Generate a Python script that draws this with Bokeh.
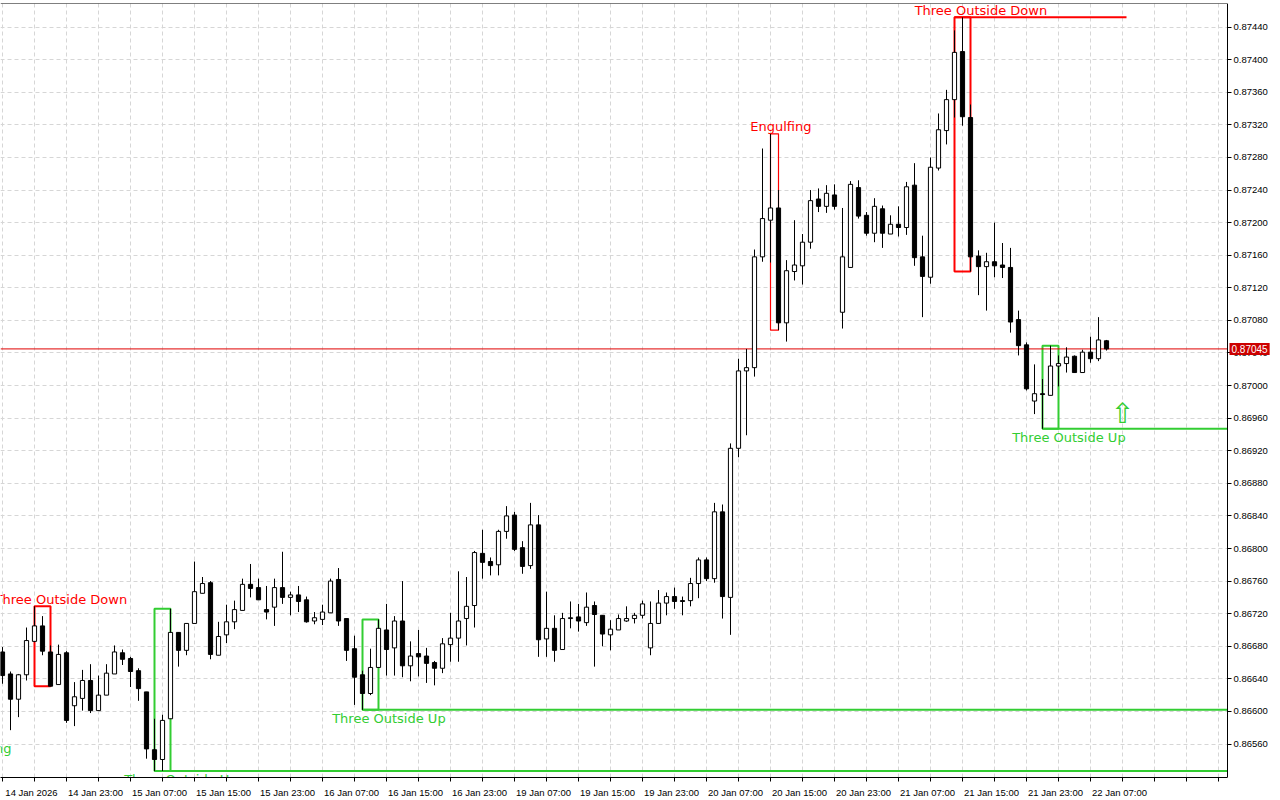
from bokeh.plotting import figure
from bokeh.models import ColumnDataSource, FixedTicker, Range1d, Label, PrintfTickFormatter, LinearAxis
from bokeh.core.properties import value
from bokeh.embed import file_html
from bokeh.resources import INLINE

# ---------------- data (H1 bars, 14 Jan 15:00 -> 22 Jan 09:00) ----------------
opens = [0.86673, 0.86646, 0.86615, 0.86645, 0.86686, 0.86705, 0.86673, 0.86633, 0.86672, 0.86607,
         0.86616, 0.86638, 0.86601, 0.86620, 0.86646, 0.86672, 0.86665, 0.86650, 0.86624, 0.86553,
         0.86541, 0.86591, 0.86697, 0.86675, 0.86708, 0.86745, 0.86758, 0.86669, 0.86694, 0.86710,
         0.86724, 0.86756, 0.86752, 0.86725, 0.86728, 0.86752, 0.86740, 0.86743, 0.86737, 0.86711,
         0.86713, 0.86721, 0.86762, 0.86714, 0.86677, 0.86645, 0.86622, 0.86654, 0.86700, 0.86678,
         0.86711, 0.86656, 0.86671, 0.86668, 0.86660, 0.86653, 0.86682, 0.86690, 0.86714, 0.86730,
         0.86794, 0.86784, 0.86780, 0.86821, 0.86841, 0.86801, 0.86779, 0.86829, 0.86689, 0.86702,
         0.86676, 0.86714, 0.86716, 0.86709, 0.86730, 0.86718, 0.86694, 0.86700, 0.86711, 0.86714,
         0.86718, 0.86678, 0.86708, 0.86733, 0.86741, 0.86736, 0.86736, 0.86757, 0.86786, 0.86763,
         0.86845, 0.86740, 0.86923, 0.87018, 0.87022, 0.87158, 0.87203, 0.87218, 0.87077, 0.87140,
         0.87147, 0.87176, 0.87229, 0.87220, 0.87234, 0.87090, 0.87145, 0.87243, 0.87209, 0.87187,
         0.87217, 0.87186, 0.87198, 0.87194, 0.87246, 0.87158, 0.87133, 0.87267, 0.87313, 0.87351,
         0.87410, 0.87329, 0.87159, 0.87146, 0.87152, 0.87148, 0.87145, 0.87081, 0.87050, 0.86981,
         0.86990, 0.86988, 0.87024, 0.87027, 0.87036, 0.87016, 0.87041, 0.87033, 0.87055]
highs = [0.86679, 0.86649, 0.86646, 0.86703, 0.86729, 0.86717, 0.86681, 0.86682, 0.86674, 0.86636,
         0.86651, 0.86658, 0.86644, 0.86658, 0.86681, 0.86676, 0.86667, 0.86653, 0.86624, 0.86591,
         0.86596, 0.86726, 0.86697, 0.86708, 0.86784, 0.86765, 0.86760, 0.86710, 0.86731, 0.86736,
         0.86763, 0.86781, 0.86763, 0.86754, 0.86763, 0.86796, 0.86747, 0.86754, 0.86741, 0.86722,
         0.86731, 0.86763, 0.86776, 0.86714, 0.86693, 0.86650, 0.86677, 0.86713, 0.86732, 0.86717,
         0.86760, 0.86686, 0.86700, 0.86678, 0.86662, 0.86690, 0.86721, 0.86772, 0.86765, 0.86797,
         0.86823, 0.86789, 0.86823, 0.86852, 0.86845, 0.86809, 0.86856, 0.86841, 0.86747, 0.86718,
         0.86721, 0.86735, 0.86732, 0.86746, 0.86735, 0.86718, 0.86712, 0.86719, 0.86729, 0.86721,
         0.86736, 0.86735, 0.86749, 0.86746, 0.86752, 0.86741, 0.86764, 0.86789, 0.86789, 0.86856,
         0.86854, 0.86929, 0.87033, 0.87045, 0.87167, 0.87291, 0.87309, 0.87240, 0.87154, 0.87203,
         0.87186, 0.87240, 0.87242, 0.87246, 0.87247, 0.87218, 0.87251, 0.87252, 0.87213, 0.87230,
         0.87221, 0.87209, 0.87220, 0.87250, 0.87273, 0.87184, 0.87280, 0.87334, 0.87363, 0.87436,
         0.87452, 0.87345, 0.87166, 0.87163, 0.87200, 0.87175, 0.87169, 0.87092, 0.87053, 0.87026,
         0.87008, 0.87049, 0.87037, 0.87047, 0.87037, 0.87044, 0.87060, 0.87084, 0.87056]
lows = [0.86634, 0.86577, 0.86593, 0.86638, 0.86685, 0.86669, 0.86631, 0.86633, 0.86586, 0.86582,
        0.86601, 0.86598, 0.86601, 0.86620, 0.86646, 0.86657, 0.86630, 0.86613, 0.86542, 0.86527,
        0.86527, 0.86591, 0.86655, 0.86669, 0.86708, 0.86745, 0.86664, 0.86669, 0.86684, 0.86701,
        0.86724, 0.86740, 0.86737, 0.86713, 0.86705, 0.86732, 0.86718, 0.86722, 0.86709, 0.86707,
        0.86706, 0.86721, 0.86705, 0.86662, 0.86608, 0.86602, 0.86620, 0.86654, 0.86644, 0.86644,
        0.86642, 0.86637, 0.86643, 0.86635, 0.86632, 0.86647, 0.86661, 0.86661, 0.86681, 0.86703,
        0.86763, 0.86767, 0.86767, 0.86812, 0.86797, 0.86769, 0.86775, 0.86667, 0.86667, 0.86661,
        0.86676, 0.86702, 0.86698, 0.86705, 0.86655, 0.86680, 0.86675, 0.86700, 0.86710, 0.86708,
        0.86714, 0.86669, 0.86708, 0.86718, 0.86726, 0.86718, 0.86729, 0.86739, 0.86760, 0.86758,
        0.86714, 0.86694, 0.86912, 0.86939, 0.87011, 0.87152, 0.87151, 0.87068, 0.87054, 0.87129,
        0.87124, 0.87168, 0.87213, 0.87212, 0.87216, 0.87070, 0.87145, 0.87205, 0.87184, 0.87176,
        0.87169, 0.87186, 0.87183, 0.87185, 0.87147, 0.87084, 0.87125, 0.87264, 0.87296, 0.87329,
        0.87319, 0.87140, 0.87111, 0.87092, 0.87133, 0.87132, 0.87065, 0.87037, 0.86994, 0.86965,
        0.86947, 0.86988, 0.86999, 0.87016, 0.87016, 0.87016, 0.87028, 0.87030, 0.87043]
closes = [0.86644, 0.86615, 0.86645, 0.86687, 0.86705, 0.86674, 0.86631, 0.86670, 0.86589, 0.86618,
          0.86638, 0.86601, 0.86620, 0.86647, 0.86673, 0.86664, 0.86649, 0.86628, 0.86554, 0.86541,
          0.86589, 0.86697, 0.86675, 0.86708, 0.86747, 0.86757, 0.86670, 0.86692, 0.86710, 0.86725,
          0.86756, 0.86751, 0.86737, 0.86722, 0.86752, 0.86740, 0.86743, 0.86735, 0.86710, 0.86715,
          0.86722, 0.86760, 0.86711, 0.86675, 0.86642, 0.86622, 0.86654, 0.86702, 0.86676, 0.86711,
          0.86656, 0.86668, 0.86667, 0.86659, 0.86653, 0.86683, 0.86690, 0.86711, 0.86729, 0.86795,
          0.86783, 0.86779, 0.86821, 0.86840, 0.86799, 0.86778, 0.86829, 0.86688, 0.86702, 0.86675,
          0.86714, 0.86715, 0.86711, 0.86728, 0.86719, 0.86695, 0.86701, 0.86714, 0.86714, 0.86718,
          0.86732, 0.86708, 0.86733, 0.86741, 0.86735, 0.86735, 0.86757, 0.86786, 0.86763, 0.86845,
          0.86741, 0.86923, 0.87018, 0.87022, 0.87158, 0.87205, 0.87218, 0.87077, 0.87141, 0.87148,
          0.87176, 0.87227, 0.87220, 0.87236, 0.87220, 0.87158, 0.87247, 0.87208, 0.87187, 0.87220,
          0.87187, 0.87198, 0.87194, 0.87244, 0.87157, 0.87134, 0.87268, 0.87314, 0.87351, 0.87409,
          0.87330, 0.87158, 0.87146, 0.87152, 0.87147, 0.87145, 0.87078, 0.87049, 0.86996, 0.86990,
          0.86989, 0.87024, 0.87027, 0.87035, 0.87016, 0.87041, 0.87033, 0.87056, 0.87045]

time_label_bars = [0, 8, 16, 24, 32, 40, 48, 56, 64, 72, 80, 88, 96, 104, 112, 120, 128, 136]
time_labels = ["14 Jan 2026", "14 Jan 23:00", "15 Jan 07:00", "15 Jan 15:00", "15 Jan 23:00",
               "16 Jan 07:00", "16 Jan 15:00", "16 Jan 23:00", "19 Jan 07:00", "19 Jan 15:00",
               "19 Jan 23:00", "20 Jan 07:00", "20 Jan 15:00", "20 Jan 23:00", "21 Jan 07:00",
               "21 Jan 15:00", "21 Jan 23:00", "22 Jan 07:00"]
price_ticks = [0.86560, 0.86600, 0.86640, 0.86680, 0.86720, 0.86760, 0.86800, 0.86840, 0.86880,
               0.86920, 0.86960, 0.87000, 0.87040, 0.87080, 0.87120, 0.87160, 0.87200, 0.87240,
               0.87280, 0.87320, 0.87360, 0.87400, 0.87440]
current_price = 0.87045

# candlestick patterns: name, first bar, last bar, pattern high, pattern low, bullish?
pattern_names = ["Engulfing", "Three Outside Down", "Three Outside Up", "Three Outside Up",
                 "Engulfing", "Three Outside Down", "Three Outside Up"]
pattern_start = [-4, 4, 19, 45, 96, 119, 130]
pattern_end = [-3, 6, 21, 47, 97, 121, 132]
pattern_high = [0.86610, 0.86729, 0.86726, 0.86713, 0.87309, 0.87452, 0.87049]
pattern_low = [0.86565, 0.86631, 0.86527, 0.86602, 0.87068, 0.87140, 0.86947]
pattern_bull = [True, False, True, True, False, False, True]

# support / resistance levels left by the patterns (None = runs to the price scale)
level_price = [0.86527, 0.86602, 0.86947, 0.87452]
level_start = [19, 45, 130, 119]
level_end = [None, None, None, 140.5]
level_bull = [True, True, True, False]

arrow_x = [140]
arrow_y = [0.86966]

# ---------------- figure ----------------
RED = "#ff0000"
GREEN = "#32cd32"
X0, X1 = -0.25, 159.75          # full canvas width, 8 px per bar
AXIS_X = 153.125                # where the price scale sits
Y0, Y1 = 0.865189, 0.874690

p = figure(width=1280, height=800, x_range=Range1d(X0, X1), y_range=Range1d(Y0, Y1),
           output_backend="svg", toolbar_location=None, y_axis_location="right",
           min_border_left=0, min_border_top=3, min_border_right=0, min_border_bottom=21,
           background_fill_color="white", border_fill_color="white")
p.outline_line_color = None

# grid
p.xgrid.ticker = FixedTicker(ticks=list(range(0, 156, 4)))
for g in (p.xgrid, p.ygrid):
    g.grid_line_color = "#d6d6d6"
    g.grid_line_dash = "4 3"
    g.grid_line_width = 1

# pattern boxes (behind candles)
for nm, s, e, hi, lo, bull in zip(pattern_names, pattern_start, pattern_end, pattern_high, pattern_low, pattern_bull):
    col = GREEN if bull else RED
    lw = 1.2 if nm == "Engulfing" else 2
    p.quad(left=[s], right=[e], top=[hi], bottom=[lo], fill_alpha=0, line_color=col, line_width=lw)

# levels
p.segment(x0=level_start, x1=[AXIS_X if e is None else e for e in level_end],
          y0=level_price, y1=level_price,
          line_color=[GREEN if b else RED for b in level_bull], line_width=2)

# current price line
p.segment(x0=[X0], x1=[AXIS_X], y0=[current_price], y1=[current_price],
          line_color="#e00000", line_width=1)

# candles
n = len(opens)
bars = list(range(n))
src = ColumnDataSource(dict(
    x=bars, o=opens, h=highs, l=lows, c=closes,
    top=[max(a, b) for a, b in zip(opens, closes)],
    bot=[min(a, b) for a, b in zip(opens, closes)],
    fill=["white" if c >= o else "black" for o, c in zip(opens, closes)],
))
p.segment(x0="x", y0="l", x1="x", y1="h", source=src, line_color="black", line_width=1)
p.vbar(x="x", top="top", bottom="bot", width=0.52, source=src,
       fill_color="fill", line_color="black", line_width=1)

# pattern names
bear_src = ColumnDataSource(dict(
    x=[e + 0.3 + (e - s - 1) for s, e, b in zip(pattern_start, pattern_end, pattern_bull) if not b],
    y=[hi for hi, b in zip(pattern_high, pattern_bull) if not b],
    t=[nm for nm, b in zip(pattern_names, pattern_bull) if not b]))
bull_src = ColumnDataSource(dict(
    x=[e + 0.3 + (e - s - 1) for s, e, b in zip(pattern_start, pattern_end, pattern_bull) if b],
    y=[lo for lo, b in zip(pattern_low, pattern_bull) if b],
    t=[nm for nm, b in zip(pattern_names, pattern_bull) if b]))
p.text(x="x", y="y", text="t", source=bear_src, text_color=RED, text_font=value("DejaVu Sans"),
       text_font_size="13px", text_align="center", text_baseline="alphabetic", y_offset=-7)
p.text(x="x", y="y", text="t", source=bull_src, text_color=GREEN, text_font=value("DejaVu Sans"),
       text_font_size="13px", text_align="center", text_baseline="top", y_offset=1)

# arrow signal
p.text(x=arrow_x, y=arrow_y, text=["\u21e7"], text_color=GREEN, text_font=value("DejaVu Sans"),
       text_font_size="28px", text_align="center", text_baseline="middle")

# blank price-scale strip (covers the grid right of the scale)
p.quad(left=[AXIS_X], right=[X1], bottom=[Y0], top=[Y1], fill_color="white", line_color=None)

# y axis (price scale, right)
ya = p.yaxis[0]
ya.fixed_location = AXIS_X
ya.ticker = FixedTicker(ticks=price_ticks)
ya.formatter = PrintfTickFormatter(format="%.5f")
ya.axis_line_color = "black"
ya.major_tick_line_color = "black"
ya.major_tick_out = 4
ya.major_tick_in = 0
ya.minor_tick_out = 0
ya.minor_tick_in = 0
ya.major_label_standoff = 2
ya.major_label_text_font = "Liberation Sans"
ya.major_label_text_font_size = "9.5px"
ya.major_label_text_color = "black"

# x axis (labels start at their tick, like the terminal)
SHIFT = 3.625
xa = p.xaxis[0]
xa.bounds = (X0, AXIS_X)
xa.ticker = FixedTicker(ticks=[b + SHIFT for b in time_label_bars],
                        minor_ticks=list(range(0, 156, 4)))
xa.major_label_overrides = {b + SHIFT: t for b, t in zip(time_label_bars, time_labels)}
xa.axis_line_color = "black"
xa.major_tick_out = 0
xa.major_tick_in = 0
xa.minor_tick_line_color = "black"
xa.minor_tick_out = 4
xa.minor_tick_in = 0
xa.major_label_standoff = 5
xa.major_label_text_font = "Liberation Sans"
xa.major_label_text_font_size = "9.5px"
xa.major_label_text_color = "black"

# top border of the chart window
top_axis = LinearAxis(fixed_location=Y1, bounds=(X0, AXIS_X), ticker=FixedTicker(ticks=[]),
                      major_tick_out=0, major_tick_in=0, minor_tick_out=0, minor_tick_in=0,
                      major_label_text_font_size="0px", axis_line_color="black")
p.add_layout(top_axis, "above")

# price tag on the scale
p.add_layout(Label(x=AXIS_X, y=current_price, x_offset=2, text="%.5f" % current_price,
                   text_color="white", text_font="Liberation Sans", text_font_size="10px",
                   text_align="left", text_baseline="middle",
                   background_fill_color="#cc0000", padding=2))

open("out.html", "w").write(file_html(p, INLINE))
